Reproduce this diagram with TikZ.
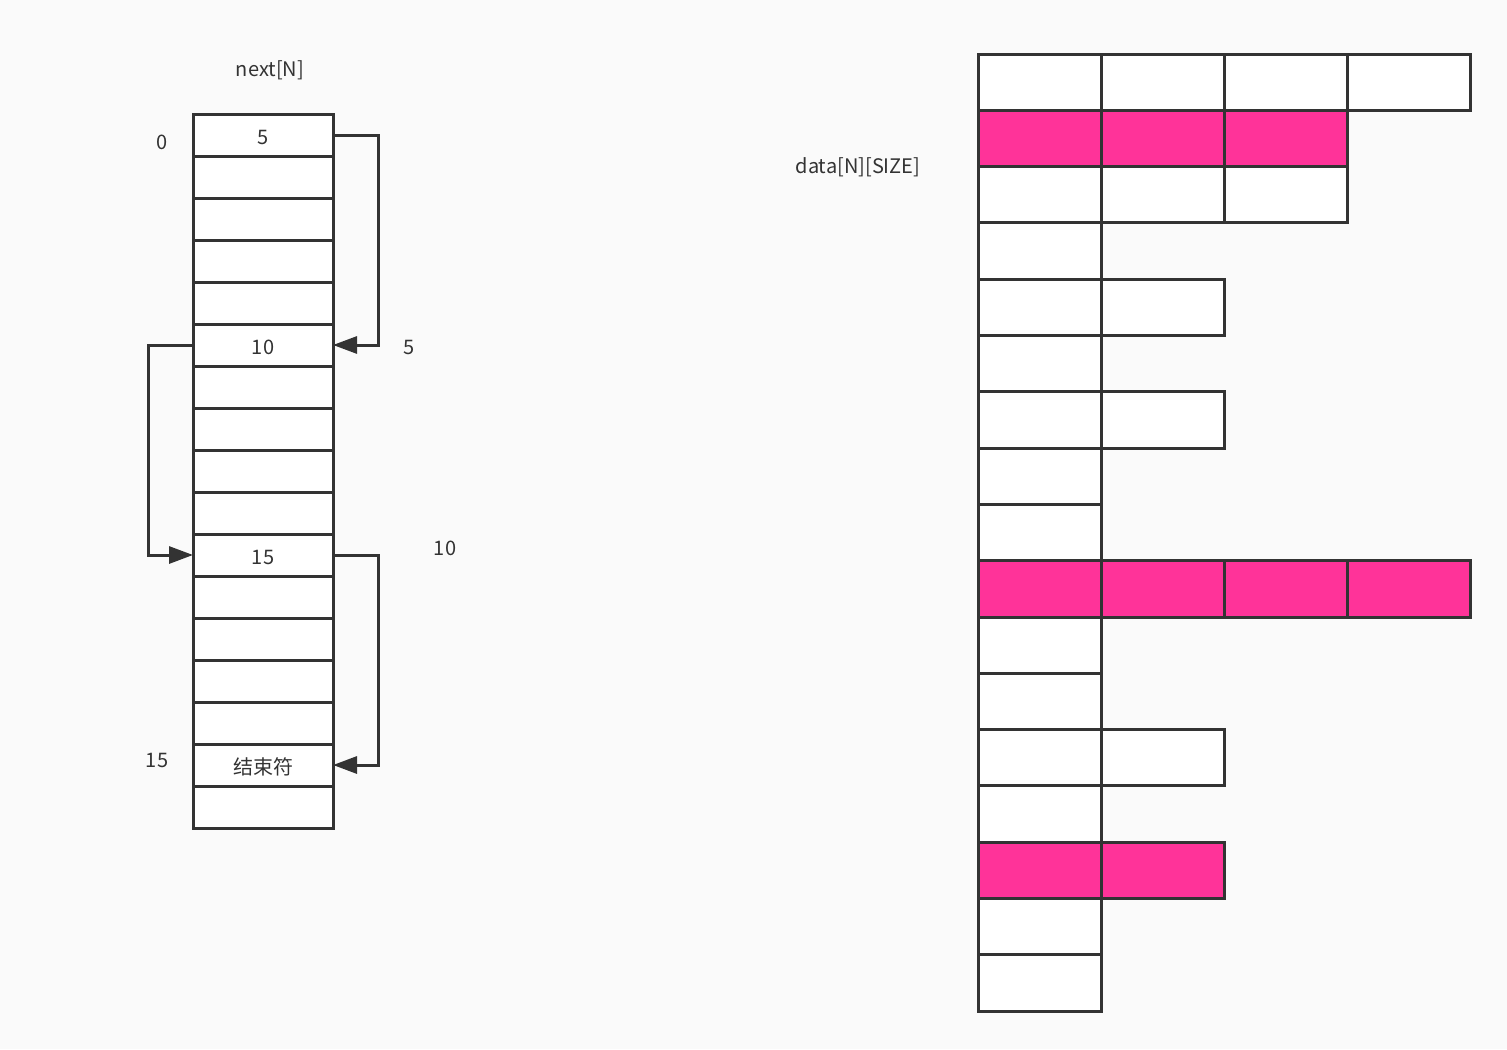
\documentclass[tikz,border=0pt]{standalone}
\usepackage{fontspec}
\setmainfont{Noto Sans CJK SC}
\usetikzlibrary{arrows.meta}
\definecolor{linegray}{HTML}{333333}
\definecolor{hotpink}{HTML}{FF3399}
\definecolor{bggray}{HTML}{FAFAFA}

\begin{document}
\begin{tikzpicture}[x=0.5pt,y=-0.5pt,
    cell/.style={draw=linegray,line width=1.5pt,fill=white,minimum width=70pt,
      minimum height=21pt,inner sep=0pt,outer sep=0pt},
    slot/.style={draw=linegray,line width=1.5pt,minimum width=61.5pt,
      minimum height=28.15pt,inner sep=0pt},
    link/.style={draw=linegray,line width=1.5pt,
      -{Triangle[length=12pt,width=8.5pt]}},
    tag/.style={text=linegray,font=\fontsize{10}{12}\selectfont}]

    \fill[bggray] (0,0) rectangle (1507,1049);

    % next[N]
    \node[tag] (title) at (270,70) {next[N]};
    \foreach \i in {0,...,16}
        \node[cell] (n\i) at (263,135+42*\i) {};
    \node[tag] (v0) at (263,137) {5};
    \node[tag] (v5) at (263,347) {10};
    \node[tag] (v10) at (263,557) {15};
    \node[tag] (v15) at (263,767) {结束符};

    \node[tag] (i0) at (162,142) {0};
    \node[tag] (i5) at (409,347) {5};
    \node[tag] (i10) at (445,548) {10};
    \node[tag] (i15) at (157,760) {15};

    \draw[link] (n0.east) -- ++(22.5pt,0) |- (n5.east);
    \draw[link] (n5.west) -- ++(-22.5pt,0) |- (n10.west);
    \draw[link] (n10.east) -- ++(22.5pt,0) |- (n15.east);

    % data[N][SIZE]
    \node[tag] (grid) at (858,167) {data[N][SIZE]};
    \foreach \len/\col [count=\r from 0] in {4/white,3/hotpink,3/white,1/white,
        2/white,1/white,2/white,1/white,1/white,4/hotpink,1/white,1/white,
        2/white,1/white,2/hotpink,1/white,1/white}
        \foreach \c in {1,...,\len}
            \node[slot,fill=\col] (d\r-\c) at (916.5+123*\c,82.15+56.3*\r) {};
\end{tikzpicture}
\end{document}
